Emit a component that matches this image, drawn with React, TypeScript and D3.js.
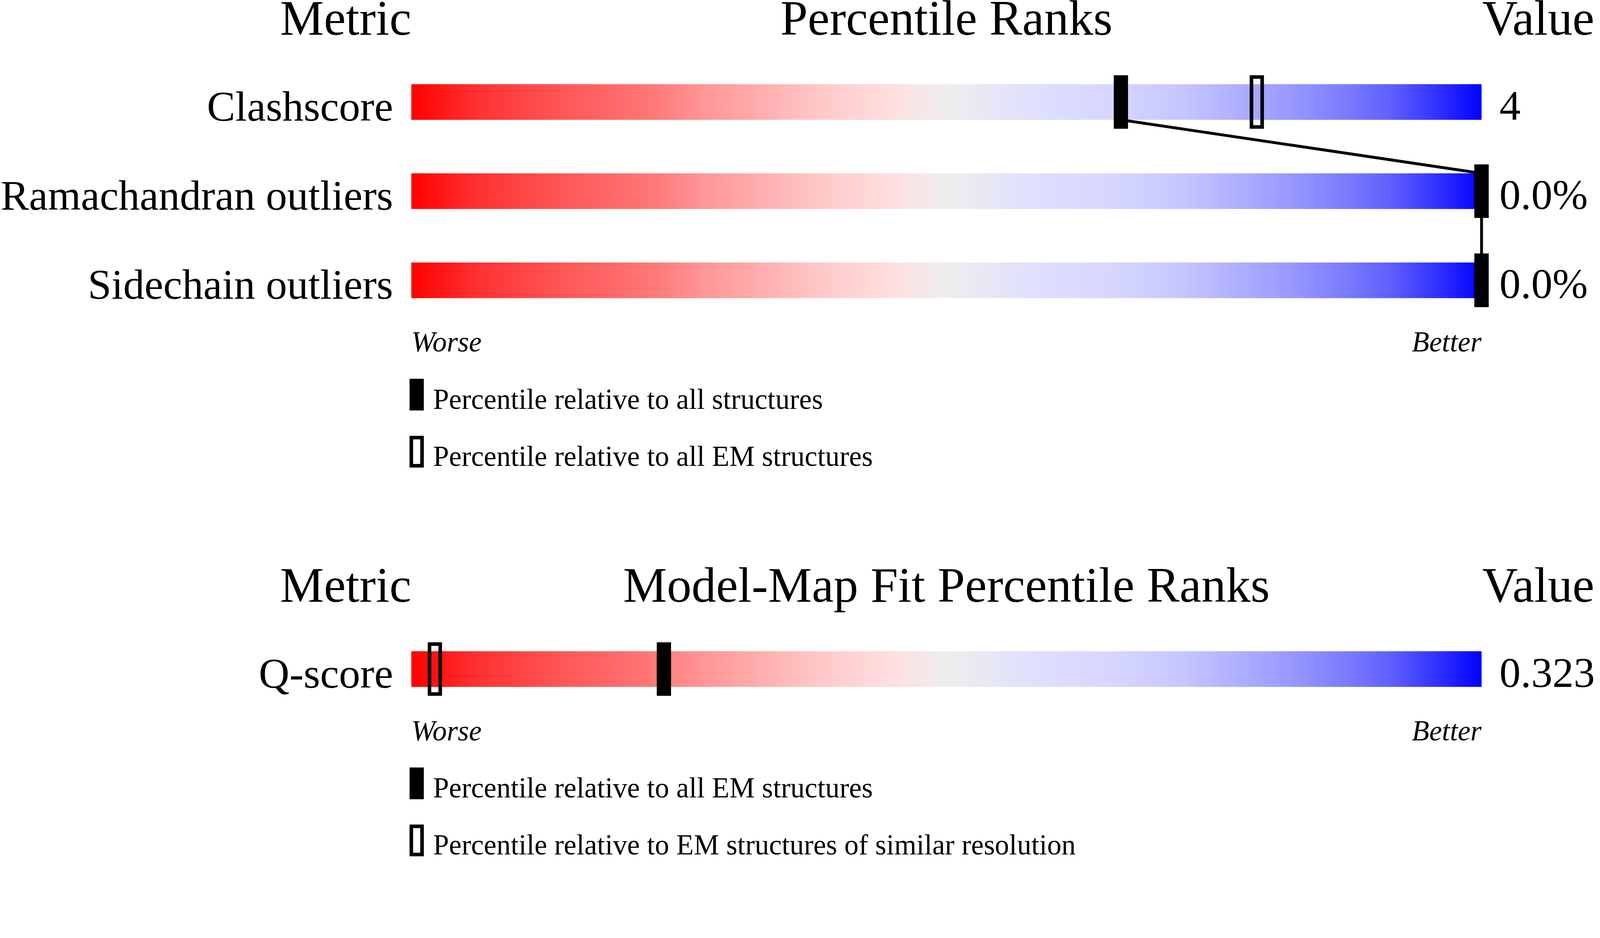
import * as d3 from 'd3';
import { useEffect, useRef } from 'react';

// validation sliders
const metrics = ['Clashscore', 'Ramachandran outliers', 'Sidechain outliers'];
const pctAll = [66.3, 100, 100];
const pctEM = [79, 100, 100];
const values = ['4', '0.0%', '0.0%'];
const legendTop = ['Percentile relative to all structures', 'Percentile relative to all EM structures'];

// model-map fit
const fitMetrics = ['Q-score'];
const fitPctAll = [23.6];
const fitPctRes = [2.2];
const fitValues = ['0.323'];
const legendBottom = ['Percentile relative to all EM structures', 'Percentile relative to EM structures of similar resolution'];

const titles = ['Percentile Ranks', 'Model-Map Fit Percentile Ranks'];

// slider colour ramp (red = worse, blue = better)
const rampOffsets = [0, 0.06, 0.15, 0.22, 0.28, 0.32, 0.38, 0.45, 0.5, 0.59, 0.66, 0.72, 0.77, 0.82, 0.87, 0.915, 0.96, 1];
const rampColors = ['#ff0000', '#ff3030', '#ff5a5a', '#ff7575', '#ff9999', '#ffaaaa', '#ffc8c8', '#ffdfdf', '#eeeeee',
  '#dedeff', '#d5d5ff', '#c6c6ff', '#b0b0ff', '#9999ff', '#7d7dff', '#6060ff', '#3030ff', '#0000ff'];

export default function App() {
  const ref = useRef<SVGSVGElement | null>(null);

  useEffect(() => {
    document.body.style.margin = '0';
    document.body.style.overflow = 'hidden';

    const svg = d3.select(ref.current);
    const width = 4485;
    const height = 2402;
    const font = '"Liberation Serif", "Times New Roman", serif';

    svg.selectAll('*').remove();
    // scale to whatever the viewport really is
    svg.attr('viewBox', `0 0 ${width} ${height}`).attr('preserveAspectRatio', 'xMinYMin meet');

    const barLeft = 1153;
    const barW = 3000;
    const barH = 100;
    const rowStep = 250;
    const markW = 40;
    const markH = 150;

    const x = d3.scaleLinear().domain([0, 100]).range([barLeft, barLeft + barW]);

    const grad = svg.append('defs').append('linearGradient').attr('id', 'ramp');
    grad.selectAll('stop')
      .data(rampOffsets)
      .join('stop')
      .attr('offset', d => d)
      .attr('stop-color', (_, i) => rampColors[i]);

    const section = (
      headerY: number, title: string, names: string[], closed: number[], open: number[],
      vals: string[], legend: string[], connect: boolean
    ) => {
      const g = svg.append('g').attr('font-family', font).attr('fill', '#000');
      const barTop = headerY + 139;
      const y = (i: number) => barTop + i * rowStep;

      g.append('text').attr('x', barLeft).attr('y', headerY).attr('text-anchor', 'end')
        .attr('font-size', 138).text('Metric');
      g.append('text').attr('x', barLeft + barW / 2).attr('y', headerY).attr('text-anchor', 'middle')
        .attr('font-size', 138).text(title);
      g.append('text').attr('x', barLeft + barW + 2).attr('y', headerY)
        .attr('font-size', 138).text('Value');

      g.selectAll('rect.bar').data(names).join('rect').attr('class', 'bar')
        .attr('x', barLeft).attr('y', (_, i) => y(i))
        .attr('width', barW).attr('height', barH).attr('fill', 'url(#ramp)');

      g.selectAll('text.label').data(names).join('text').attr('class', 'label')
        .attr('x', barLeft - 51).attr('y', (_, i) => y(i) + barH + 2)
        .attr('text-anchor', 'end').attr('font-size', 119).text(d => d);

      g.selectAll('text.val').data(vals).join('text').attr('class', 'val')
        .attr('x', barLeft + barW + 50).attr('y', (_, i) => y(i) + barH)
        .attr('font-size', 119).text(d => d);

      if (connect && closed.length > 1) {
        const pts: [number, number][] = [];
        closed.forEach((p, i) => {
          if (i > 0) pts.push([x(p), y(i)]);
          if (i < closed.length - 1) pts.push([x(p), y(i) + barH]);
        });
        const segs = d3.pairs(pts).filter((_, k) => k % 2 === 0);
        g.selectAll('path.link').data(segs).join('path').attr('class', 'link')
          .attr('d', d => d3.line()(d))
          .attr('fill', 'none').attr('stroke', '#000').attr('stroke-width', 8);
      }

      g.selectAll('rect.open').data(open).join('rect').attr('class', 'open')
        .attr('x', d => x(d) - markW / 2 + 5).attr('y', (_, i) => y(i) - 25 + 5)
        .attr('width', markW - 10).attr('height', markH - 10)
        .attr('fill', 'none').attr('stroke', '#000').attr('stroke-width', 10);

      g.selectAll('rect.closed').data(closed).join('rect').attr('class', 'closed')
        .attr('x', d => x(d) - markW / 2).attr('y', (_, i) => y(i) - 25)
        .attr('width', markW).attr('height', markH).attr('fill', '#000');

      const lastBottom = y(names.length - 1) + barH;
      g.append('text').attr('x', barLeft).attr('y', lastBottom + 150)
        .attr('font-size', 80).attr('font-style', 'italic').text('Worse');
      g.append('text').attr('x', barLeft + barW).attr('y', lastBottom + 150).attr('text-anchor', 'end')
        .attr('font-size', 80).attr('font-style', 'italic').text('Better');

      legend.forEach((txt, i) => {
        const ly = lastBottom + 226 + i * 160;
        if (i === 0) {
          g.append('rect').attr('x', barLeft - 5).attr('y', ly).attr('width', 40).attr('height', 89).attr('fill', '#000');
        } else {
          g.append('rect').attr('x', barLeft).attr('y', ly + 5).attr('width', 30).attr('height', 79)
            .attr('fill', 'none').attr('stroke', '#000').attr('stroke-width', 10);
        }
        g.append('text').attr('x', barLeft + 61).attr('y', ly + 84).attr('font-size', 80).text(txt);
      });
    };

    section(97, titles[0], metrics, pctAll, pctEM, values, legendTop, true);
    section(1687, titles[1], fitMetrics, fitPctAll, fitPctRes, fitValues, legendBottom, false);
  }, []);

  return (
    <svg
      ref={ref}
      style={{ position: 'absolute', left: 0, top: 0, width: '100vw', height: '100vh', display: 'block', background: '#fff' }}
    ></svg>
  );
}
